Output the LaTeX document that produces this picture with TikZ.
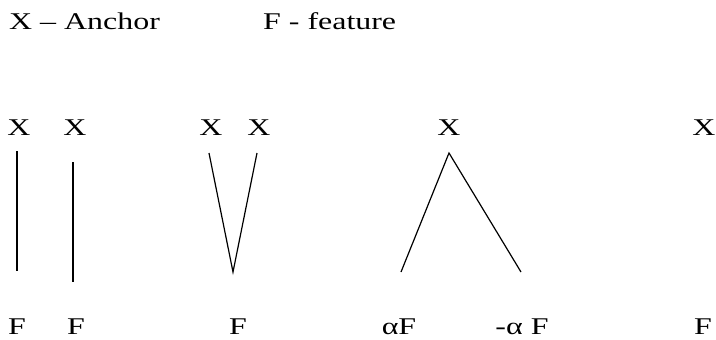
\documentclass[tikz,border=0pt]{standalone}
\usepackage{fontspec}
\setmainfont{Liberation Serif}
\usetikzlibrary{positioning}
\tikzset{
  lbl/.style={inner sep=0pt, anchor=base, font=\fontsize{24}{28}\selectfont},
  key/.style={lbl, anchor=base west},
  bond/.style={line width=1.2pt, black},
}
\newcommand{\wide}[1]{\scalebox{1.33}[1]{#1}}

\begin{document}
\begin{tikzpicture}[x=1pt, y=-1pt]
    \useasboundingbox (0,0) rectangle (716,340);
    % Legend
    \node[key] (keyx) at (9,29) {\wide{X -- Anchor}};
    \node[key] (keyf) at (263,29) {\wide{F - feature}};
    % Anchors
    \node[lbl] (x1) at (19,135) {\wide{X}};
    \node[lbl] (x2) at (75,135) {\wide{X}};
    \node[lbl] (x3) at (211,135) {\wide{X}};
    \node[lbl] (x4) at (259,135) {\wide{X}};
    \node[lbl] (x5) at (449,135) {\wide{X}};
    \node[lbl] (x6) at (704,135) {\wide{X}};
    % Features
    \node[lbl] (f1) at (17,334) {\wide{F}};
    \node[lbl] (f2) at (76,334) {\wide{F}};
    \node[lbl] (f3) at (238,334) {\wide{F}};
    \node[lbl] (f4) at (399,334) {\wide{αF}};
    \node[lbl] (f5) at (522,334) {\wide{-α F}};
    \node[lbl] (f6) at (703,334) {\wide{F}};
    % Line ends
    \coordinate (a1) at (17,151);
    \coordinate (b1) at (17,271);
    \coordinate (a2) at (73,162);
    \coordinate (b2) at (73,282);
    \coordinate (a3) at (209,153);
    \coordinate (a4) at (257,153);
    \coordinate (b3) at (233,272);
    \coordinate (a5) at (449,153);
    \coordinate (b4) at (401,272);
    \coordinate (b5) at (521,272);

    \draw[bond] (a1) -- (b1);
    \draw[bond] (a2) -- (b2);
    \draw[bond] (a3) -- (b3) -- (a4);
    \draw[bond] (b4) -- (a5) -- (b5);
  \end{tikzpicture}
\end{document}
